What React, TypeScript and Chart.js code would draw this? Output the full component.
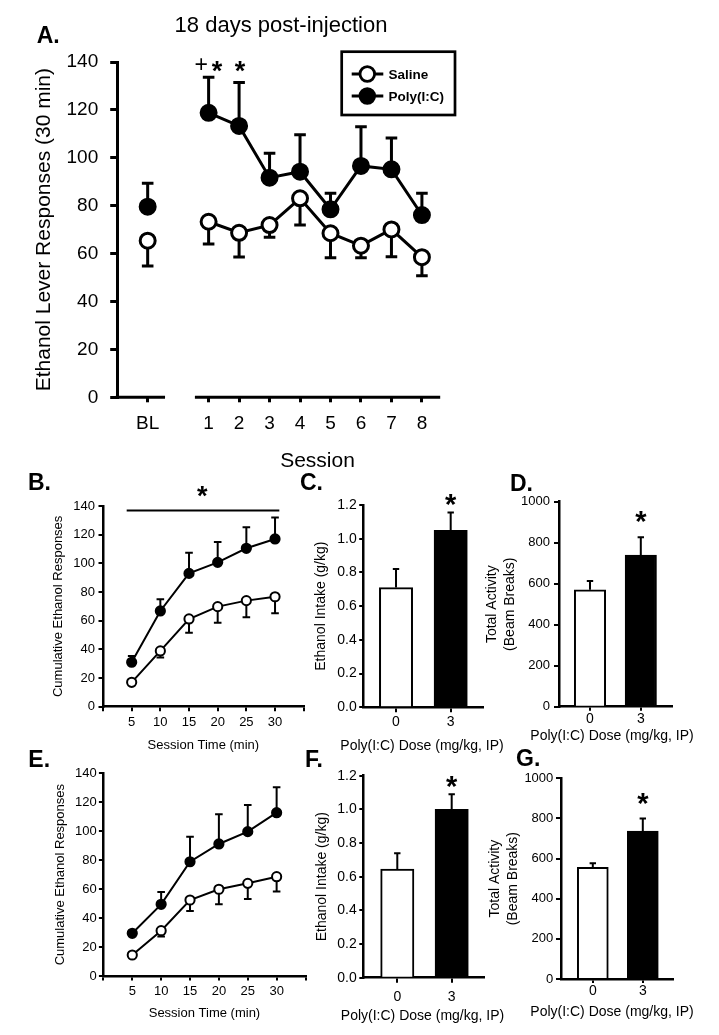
import React, { useEffect, useRef } from 'react';
import { Chart, registerables } from 'chart.js';

Chart.register(...registerables);

const FONT = "'Liberation Sans', Arial, Helvetica, sans-serif";
const BLACK = '#000000';
const WHITE = '#ffffff';
const W = 719;
const H = 1035;

// ---------- Panel A: ethanol lever responses per session ----------
const sessionLabels = ['BL', '1', '2', '3', '4', '5', '6', '7', '8'];
const sessionPos = [-1, 1, 2, 3, 4, 5, 6, 7, 8];
const salineA = [65.4, 73.3, 68.7, 71.9, 83.1, 68.5, 63.3, 70.1, 58.5];
const salineAErr = [10.6, 9.3, 10.1, 5.1, 11.2, 10.2, 5.0, 11.4, 7.7];
const polyA = [79.6, 118.8, 113.3, 91.7, 94.2, 78.5, 96.6, 95.2, 76.1];
const polyAErr = [9.8, 14.8, 18.1, 10.2, 15.4, 6.7, 16.4, 13.1, 9.1];
const responseTicks = [0, 20, 40, 60, 80, 100, 120, 140];

// ---------- Panels B and E: cumulative responses over session time ----------
const timePoints = [5, 10, 15, 20, 25, 30];
const timeAxisTicks = [0, 5, 10, 15, 20, 25, 30, 35];
const salineB = [17, 38.9, 61.2, 69.8, 74, 76.7];
const salineBErr = [1.5, 4.5, 9.6, 11.2, 11.6, 11.5];
const polyB = [31, 66.8, 93, 100.7, 110.5, 117];
const polyBErr = [4.4, 8.1, 14.4, 14.2, 14.6, 14.9];
const salineE = [14.5, 31.3, 52.5, 59.9, 64, 68.6];
const salineEErr = [1.5, 4.1, 7.6, 10.4, 10.8, 10.3];
const polyE = [29.5, 49.5, 78.9, 91.2, 99.7, 112.8];
const polyEErr = [1.5, 8.5, 17.3, 20.5, 18.4, 17.5];

// ---------- Panels C, D, F, G: bar charts by dose ----------
const doseLabels = ['0', '3'];
const dosePos = [0, 1];
const intakeTicks = [0, 0.2, 0.4, 0.6, 0.8, 1.0, 1.2];
const activityTicks = [0, 200, 400, 600, 800, 1000];
const intakeC = [0.71, 1.05];
const intakeCErr = [0.11, 0.105];
const activityD = [570, 740];
const activityDErr = [43, 86];
const intakeF = [0.645, 1.0];
const intakeFErr = [0.095, 0.09];
const activityG = [557, 737];
const activityGErr = [20, 63];

type Area = { l: number; r: number; t: number; b: number };

// ---------- plugins ----------
function drawErrors(chart: any, opts: any) {
  const ctx = chart.ctx;
  const ys = chart.scales.y;
  (opts.sets || []).forEach((s: any) => {
    const meta = chart.getDatasetMeta(s.index);
    const ds = chart.data.datasets[s.index];
    meta.data.forEach((el: any, i: number) => {
      const v = ds.data[i].y;
      const e = s.errors[i];
      const tip = s.dir === 'down' ? v - e : v + e;
      const x = el.x;
      const y0 = ys.getPixelForValue(v);
      const y1 = ys.getPixelForValue(tip);
      ctx.save();
      ctx.strokeStyle = BLACK;
      ctx.lineWidth = s.lineWidth;
      ctx.lineCap = 'butt';
      ctx.beginPath();
      ctx.moveTo(x, y0);
      ctx.lineTo(x, y1);
      ctx.moveTo(x - s.cap, y1);
      ctx.lineTo(x + s.cap, y1);
      ctx.stroke();
      ctx.restore();
    });
  });
}

const errorBarsPlugin = {
  id: 'errorBars',
  beforeDatasetsDraw(chart: any, _a: any, opts: any) {
    if (opts.when === 'before') drawErrors(chart, opts);
  },
  afterDatasetsDraw(chart: any, _a: any, opts: any) {
    if (opts.when === 'after') drawErrors(chart, opts);
  },
};

const notesPlugin = {
  id: 'notes',
  afterDraw(chart: any, _a: any, opts: any) {
    const ctx = chart.ctx;
    const xs = chart.scales.x;
    const ys = chart.scales.y;
    (opts.lines || []).forEach((l: any) => {
      ctx.save();
      ctx.strokeStyle = BLACK;
      ctx.lineWidth = l.w;
      ctx.beginPath();
      ctx.moveTo(xs.getPixelForValue(l.x0) - (l.ext || 0), ys.getPixelForValue(l.y));
      ctx.lineTo(xs.getPixelForValue(l.x1), ys.getPixelForValue(l.y));
      ctx.stroke();
      ctx.restore();
    });
    (opts.texts || []).forEach((t: any) => {
      const x = t.data ? xs.getPixelForValue(t.x) + (t.dx || 0) : t.x;
      const y = t.data ? ys.getPixelForValue(t.y) + (t.dy || 0) : t.y;
      ctx.save();
      ctx.font = `${t.bold ? 'bold ' : ''}${t.size}px ${FONT}`;
      ctx.fillStyle = BLACK;
      ctx.textAlign = t.align || 'center';
      ctx.textBaseline = 'alphabetic';
      ctx.fillText(t.text, x, y + (t.k ?? 0.358) * t.size);
      ctx.restore();
    });
    const lg = opts.legend;
    if (lg) {
      ctx.save();
      ctx.strokeStyle = BLACK;
      ctx.lineWidth = lg.boxW;
      ctx.strokeRect(lg.box[0], lg.box[1], lg.box[2], lg.box[3]);
      chart.data.datasets.forEach((ds: any, i: number) => {
        const y = lg.ys[i];
        ctx.lineWidth = lg.lineW;
        ctx.beginPath();
        ctx.moveTo(lg.x0, y);
        ctx.lineTo(lg.x1, y);
        ctx.stroke();
        ctx.beginPath();
        ctx.arc(lg.cx, y, lg.r, 0, Math.PI * 2);
        ctx.fillStyle = ds.pointBackgroundColor;
        ctx.fill();
        ctx.stroke();
        ctx.fillStyle = BLACK;
        ctx.font = `bold ${lg.size}px ${FONT}`;
        ctx.textAlign = 'left';
        ctx.textBaseline = 'alphabetic';
        ctx.fillText(ds.label, lg.tx, y + 0.358 * lg.size);
      });
      ctx.restore();
    }
  },
};

// ---------- scale builders ----------
function yScale(area: Area, o: any) {
  const lhf = o.titleLH ?? 1.2;
  const scaleLeft = o.titleX - (o.titleSize * lhf) / 2;
  return {
    scaleLeft,
    cfg: {
      type: 'linear',
      position: 'left',
      min: o.min,
      max: o.max,
      afterBuildTicks: (s: any) => {
        s.ticks = o.ticks.map((value: number) => ({ value }));
      },
      afterFit: (s: any) => {
        s.width = area.l - scaleLeft;
      },
      ticks: {
        color: BLACK,
        autoSkip: false,
        font: { family: FONT, size: o.size },
        padding: o.pad,
        callback: (v: any) => (o.fmt ? o.fmt(Number(v)) : String(v)),
      },
      grid: {
        display: true,
        drawOnChartArea: false,
        drawTicks: true,
        tickLength: o.tl,
        tickWidth: o.tw,
        tickColor: BLACK,
        color: BLACK,
        lineWidth: o.tw,
      },
      border: { display: true, color: BLACK, width: o.bw },
      title: {
        display: true,
        text: o.title,
        color: BLACK,
        font: { family: FONT, size: o.titleSize, lineHeight: lhf },
        padding: 0,
      },
    },
  };
}

function xScale(o: any) {
  return {
    type: 'linear',
    position: 'bottom',
    min: o.min,
    max: o.max,
    offset: false,
    afterBuildTicks: (s: any) => {
      s.ticks = o.ticks.map((value: number) => ({ value }));
    },
    afterFit: (s: any) => {
      s.height = o.xH;
    },
    ticks: {
      color: BLACK,
      autoSkip: false,
      maxRotation: 0,
      minRotation: 0,
      font: { family: FONT, size: o.size },
      padding: o.pad,
      callback: (v: any, i: number) => o.label(Number(v), i),
    },
    grid: {
      display: true,
      offset: false,
      drawOnChartArea: false,
      drawTicks: true,
      tickLength: o.tl,
      tickWidth: o.tw,
      tickColor: BLACK,
      color: BLACK,
      lineWidth: o.tw,
    },
    border: { display: o.border, color: BLACK, width: o.bw },
    title: o.title
      ? {
          display: true,
          text: o.title,
          color: BLACK,
          font: { family: FONT, size: o.titleSize, lineHeight: 1.2 },
          padding: 0,
        }
      : { display: false },
  };
}

function baseOptions(area: Area, scaleLeft: number, xH: number) {
  return {
    responsive: false,
    maintainAspectRatio: false,
    animation: false,
    events: [],
    layout: {
      padding: { left: scaleLeft, right: W - area.r, top: area.t, bottom: H - area.b - xH },
    },
  };
}

function pts(xs: number[], ys: number[]) {
  return xs.map((x, i) => ({ x, y: ys[i] }));
}

// ---------- Panel A ----------
function makeA() {
  const area: Area = { l: 117.2, r: 440.2, t: 62, b: 397.3 };
  const xH = 50;
  const y = yScale(area, {
    min: 0, max: 140, ticks: responseTicks, size: 19, tl: 7, pad: 12, tw: 3, bw: 3,
    title: 'Ethanol Lever Responses (30 min)', titleSize: 21, titleX: 44,
  });
  const x = xScale({
    min: -2, max: 8.6, ticks: sessionPos, label: (_v: number, i: number) => sessionLabels[i],
    size: 19, tl: 5, pad: 10, tw: 3, border: false, bw: 3, xH,
  });
  const lineStyle = (fill: string) => ({
    borderColor: BLACK,
    borderWidth: 3,
    pointRadius: 7.5,
    pointBorderWidth: 3,
    pointBackgroundColor: fill,
    pointBorderColor: BLACK,
    tension: 0,
    segment: { borderColor: (c: any) => (c.p0DataIndex === 0 ? 'rgba(0,0,0,0)' : BLACK) },
  });
  return {
    type: 'line',
    data: {
      datasets: [
        { label: 'Saline', data: pts(sessionPos, salineA), ...lineStyle(WHITE) },
        { label: 'Poly(I:C)', data: pts(sessionPos, polyA), ...lineStyle(BLACK) },
      ],
    },
    options: {
      ...baseOptions(area, y.scaleLeft, xH),
      plugins: {
        legend: { display: false },
        tooltip: { enabled: false },
        errorBars: {
          when: 'before',
          sets: [
            { index: 0, errors: salineAErr, dir: 'down', lineWidth: 3, cap: 5.8 },
            { index: 1, errors: polyAErr, dir: 'up', lineWidth: 3, cap: 5.8 },
          ],
        },
        notes: {
          lines: [
            { x0: -2, x1: -0.43, y: 0, w: 3, ext: 1.5 },
            { x0: 0.55, x1: 8.6, y: 0, w: 3 },
          ],
          texts: [
            { text: 'A.', x: 36.7, y: 35, size: 23, bold: true, align: 'left' },
            { text: '18 days post-injection', x: 281, y: 24, size: 22 },
            { text: 'Session', x: 317.5, y: 459, size: 21 },
            { text: '+', data: true, x: 1, y: 139, dx: -7.5, size: 23, k: 0.34 },
            { text: '*', data: true, x: 1, y: 139, dx: 8.5, size: 27, bold: true, k: 0.56 },
            { text: '*', data: true, x: 2, y: 139, dx: 1, size: 27, bold: true, k: 0.56 },
          ],
          legend: {
            box: [341.7, 51.7, 113.3, 63.3], boxW: 2.7, ys: [74, 96],
            x0: 351.7, x1: 383.3, cx: 367.3, r: 7.3, lineW: 2.8, tx: 388.5, size: 13.5,
          },
        },
      },
      scales: { x, y: y.cfg },
    },
    plugins: [errorBarsPlugin, notesPlugin],
  };
}

// ---------- Panels B / E ----------
function makeTime(p: any) {
  const area: Area = p.area;
  const xH = p.xTitleY + (13 * 1.2) / 2 - area.b;
  const y = yScale(area, {
    min: 0, max: 140, ticks: responseTicks, size: 13, tl: 4.5, pad: p.yPad, tw: 2, bw: 2.5,
    title: 'Cumulative Ethanol Responses', titleSize: 13, titleX: p.yTitleX,
  });
  const x = xScale({
    min: 0, max: 35, ticks: timeAxisTicks,
    label: (v: number) => (timePoints.includes(v) ? String(v) : ''),
    size: 13, tl: 4.5, pad: p.xPad, tw: 2, border: true, bw: 2.5, xH,
    title: 'Session Time (min)', titleSize: 13,
  });
  const lineStyle = (fill: string) => ({
    borderColor: BLACK,
    borderWidth: 2,
    pointRadius: 4.6,
    pointBorderWidth: 2,
    pointBackgroundColor: fill,
    pointBorderColor: BLACK,
    tension: 0,
  });
  return {
    type: 'line',
    data: {
      datasets: [
        { label: 'Saline', data: pts(timePoints, p.saline), ...lineStyle(WHITE) },
        { label: 'Poly(I:C)', data: pts(timePoints, p.poly), ...lineStyle(BLACK) },
      ],
    },
    options: {
      ...baseOptions(area, y.scaleLeft, xH),
      plugins: {
        legend: { display: false },
        tooltip: { enabled: false },
        errorBars: {
          when: 'before',
          sets: [
            { index: 0, errors: p.salineErr, dir: 'down', lineWidth: 2, cap: 3.8 },
            { index: 1, errors: p.polyErr, dir: 'up', lineWidth: 2, cap: 3.8 },
          ],
        },
        notes: { lines: p.lines || [], texts: p.texts },
      },
      scales: { x, y: y.cfg },
    },
    plugins: [errorBarsPlugin, notesPlugin],
  };
}

// ---------- bar panels ----------
function makeBar(p: any) {
  const area: Area = p.area;
  const xH = 30;
  const y = yScale(area, {
    min: 0, max: p.yMax, ticks: p.yTicks, fmt: p.fmt, size: p.tickSize, tl: p.ytl, pad: p.yPad,
    tw: 2, bw: 2.5, title: p.yTitle, titleSize: 14, titleLH: p.titleLH, titleX: p.yTitleX,
  });
  const x = xScale({
    min: p.xMin, max: p.xMax, ticks: dosePos, label: (_v: number, i: number) => doseLabels[i],
    size: 14, tl: p.xtl, pad: p.xPad, tw: 2, border: true, bw: 2.5, xH,
  });
  return {
    type: 'bar',
    data: {
      datasets: [
        {
          label: p.yTitle,
          data: pts(dosePos, p.values),
          backgroundColor: [WHITE, BLACK],
          borderColor: BLACK,
          borderWidth: 2,
          barThickness: p.barW,
        },
      ],
    },
    options: {
      ...baseOptions(area, y.scaleLeft, xH),
      plugins: {
        legend: { display: false },
        tooltip: { enabled: false },
        errorBars: {
          when: 'after',
          sets: [{ index: 0, errors: p.errors, dir: 'up', lineWidth: 2, cap: 3.2 }],
        },
        notes: {
          texts: [
            { text: p.letter, x: p.letterX, y: p.letterY, size: 23, bold: true, align: 'left' },
            { text: 'Poly(I:C) Dose (mg/kg, IP)', x: p.xTitleX, y: p.xTitleY, size: 14 },
            { text: '*', data: true, x: 1, y: p.starY, size: 29, bold: true, k: 0.56 },
          ],
        },
      },
      scales: { x, y: y.cfg },
    },
    plugins: [errorBarsPlugin, notesPlugin],
  };
}

const fmt1 = (v: number) => v.toFixed(1);

const makers: Array<() => any> = [
  makeA,
  () =>
    makeTime({
      area: { l: 103, r: 303.7, t: 506, b: 706.7 },
      xTitleY: 745, yTitleX: 58, yPad: 3.5, xPad: 3,
      saline: salineB, salineErr: salineBErr, poly: polyB, polyErr: polyBErr,
      lines: [{ x0: 4.13, x1: 30.75, y: 136.8, w: 2 }],
      texts: [
        { text: 'B.', x: 28, y: 481.7, size: 23, bold: true, align: 'left' },
        { text: '*', data: true, x: 17.3, y: 151, size: 27, bold: true, k: 0.56 },
      ],
    }),
  () =>
    makeTime({
      area: { l: 103.4, r: 305.5, t: 773.3, b: 976 },
      xTitleY: 1013.3, yTitleX: 60, yPad: 2.2, xPad: 3.4,
      saline: salineE, salineErr: salineEErr, poly: polyE, polyErr: polyEErr,
      texts: [{ text: 'E.', x: 28.3, y: 758.3, size: 23, bold: true, align: 'left' }],
    }),
  () =>
    makeBar({
      area: { l: 363.2, r: 483.5, t: 505, b: 707.3 }, xMin: -0.6, xMax: 1.6,
      yMax: 1.2, yTicks: intakeTicks, fmt: fmt1, tickSize: 14, ytl: 4, yPad: 2.5, xtl: 5, xPad: 1.5,
      yTitle: 'Ethanol Intake (g/kg)', yTitleX: 320.7, values: intakeC, errors: intakeCErr,
      barW: 33.3, starY: 1.241, letter: 'C.', letterX: 300, letterY: 481.7, xTitleX: 422, xTitleY: 745,
    }),
  () =>
    makeBar({
      area: { l: 559, r: 672.3, t: 501.7, b: 706.7 }, xMin: -0.61, xMax: 1.62,
      yMax: 1000, yTicks: activityTicks, tickSize: 13, ytl: 5, yPad: 4, xtl: 4, xPad: 0,
      yTitle: ['Total Activity', '(Beam Breaks)'], titleLH: 1.3, yTitleX: 491.7,
      values: activityD, errors: activityDErr, barW: 31.4, starY: 935,
      letter: 'D.', letterX: 510, letterY: 483, xTitleX: 612, xTitleY: 735,
    }),
  () =>
    makeBar({
      area: { l: 363.3, r: 484, t: 775.7, b: 977.7 }, xMin: -0.625, xMax: 1.594,
      yMax: 1.2, yTicks: intakeTicks, fmt: fmt1, tickSize: 14, ytl: 4, yPad: 2.6, xtl: 5, xPad: 5.6,
      yTitle: 'Ethanol Intake (g/kg)', yTitleX: 321.7, values: intakeF, errors: intakeFErr,
      barW: 33.3, starY: 1.175, letter: 'F.', letterX: 305, letterY: 758.3, xTitleX: 422.5, xTitleY: 1015,
    }),
  () =>
    makeBar({
      area: { l: 561, r: 673.3, t: 778.3, b: 979 }, xMin: -0.636, xMax: 1.61,
      yMax: 1000, yTicks: activityTicks, tickSize: 13, ytl: 5, yPad: 2.7, xtl: 4, xPad: 0,
      yTitle: ['Total Activity', '(Beam Breaks)'], titleLH: 1.3, yTitleX: 495,
      values: activityG, errors: activityGErr, barW: 31, starY: 908,
      letter: 'G.', letterX: 516, letterY: 758, xTitleX: 612, xTitleY: 1010.7,
    }),
];

function ChartCanvas({ make }: { make: () => any }) {
  const ref = useRef<HTMLCanvasElement | null>(null);
  useEffect(() => {
    if (!ref.current) return;
    const chart = new Chart(ref.current, make());
    return () => chart.destroy();
  }, [make]);
  return (
    <canvas
      ref={ref}
      width={W}
      height={H}
      style={{ position: 'absolute', left: 0, top: 0, width: W, height: H }}
    />
  );
}

export default function App() {
  return (
    <div
      style={{
        position: 'absolute',
        left: 0,
        top: 0,
        width: W,
        height: H,
        background: WHITE,
        overflow: 'hidden',
      }}
    >
      {makers.map((m, i) => (
        <ChartCanvas key={i} make={m} />
      ))}
    </div>
  );
}
